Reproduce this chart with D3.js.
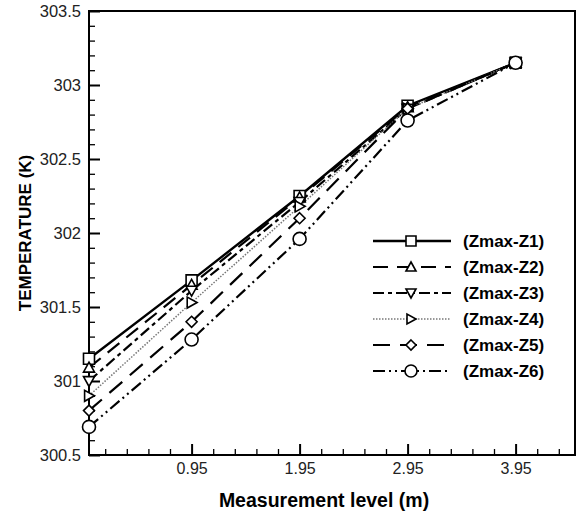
<!DOCTYPE html>
<html>
<head>
<meta charset="utf-8">
<script src="https://cdn.jsdelivr.net/npm/d3@7"></script>
<style>
  body { margin: 0; background: #fff; }
  text { font-family: "Liberation Sans", Arial, sans-serif; }
</style>
</head>
<body>
<svg width="579" height="517"></svg>
<script>
// measurement levels (m)
const levels = [0, 0.95, 1.95, 2.95, 3.95];

// temperature series (K)
const z1 = [301.15, 301.68, 302.25, 302.86, 303.15];
const z2 = [301.09, 301.65, 302.24, 302.85, 303.15];
const z3 = [301.0, 301.61, 302.21, 302.84, 303.15];
const z4 = [300.9, 301.53, 302.18, 302.84, 303.15];
const z5 = [300.8, 301.4, 302.1, 302.84, 303.15];
const z6 = [300.69, 301.28, 301.96, 302.76, 303.15];

const seriesNames = ["(Zmax-Z1)", "(Zmax-Z2)", "(Zmax-Z3)", "(Zmax-Z4)", "(Zmax-Z5)", "(Zmax-Z6)"];
const xTicks = [0.95, 1.95, 2.95, 3.95];
const yTicks = [300.5, 301, 301.5, 302, 302.5, 303, 303.5];

const series = [z1, z2, z3, z4, z5, z6];
const markers = ["square", "triangle", "triangleDown", "triangleRight", "diamond", "circle"];
const dashes = ["none", "15,9", "11,4,4,4", "1.5,1.5", "17,10", "12,4,2,4,2,4"];
const colors = ["#000", "#000", "#000", "#777", "#000", "#000"];
const widths = [2.4, 2.2, 2.2, 1.5, 2.2, 2.2];

const margin = { top: 11, right: 4, bottom: 62, left: 89 };
const width = 579;
const height = 517;

const x = d3.scaleLinear().domain([0, 4.5]).range([margin.left, width - margin.right]);
const y = d3.scaleLinear().domain([300.5, 303.5]).range([height - margin.bottom, margin.top]);

const svg = d3.select("svg");

// ticks, major and minor
const xMinor = d3.range(0.15, 4.5, 0.2).filter(v => !xTicks.some(t => Math.abs(t - v) < 1e-6));
const yMinor = d3.range(300.6, 303.5, 0.1).filter(v => !yTicks.some(t => Math.abs(t - v) < 1e-6));

svg.append("g")
  .attr("transform", `translate(0,${y(300.5)})`)
  .call(d3.axisBottom(x).tickValues(xMinor).tickSize(-6).tickFormat(""))
  .call(g => g.select(".domain").remove())
  .selectAll("line").attr("stroke-width", 1.3);

svg.append("g")
  .attr("transform", `translate(0,${y(300.5)})`)
  .call(d3.axisBottom(x).tickValues(xTicks).tickSize(-11).tickPadding(8).tickFormat(d3.format(".2f")))
  .call(g => g.select(".domain").remove())
  .call(g => g.selectAll("line").attr("stroke-width", 2))
  .call(g => g.selectAll("text").attr("font-size", 16).attr("fill", "#222"));

svg.append("g")
  .attr("transform", `translate(${x(0)},0)`)
  .call(d3.axisLeft(y).tickValues(yMinor).tickSize(-6).tickFormat(""))
  .call(g => g.select(".domain").remove())
  .selectAll("line").attr("stroke-width", 1.3);

svg.append("g")
  .attr("transform", `translate(${x(0)},0)`)
  .call(d3.axisLeft(y).tickValues(yTicks).tickSize(-11).tickPadding(8).tickFormat(d => d))
  .call(g => g.select(".domain").remove())
  .call(g => g.selectAll("line").attr("stroke-width", 2))
  .call(g => g.selectAll("text").attr("font-size", 16.5).attr("fill", "#222"));

// frame
svg.append("rect")
  .attr("x", x(0)).attr("y", y(303.5))
  .attr("width", x(4.5) - x(0)).attr("height", y(300.5) - y(303.5))
  .attr("fill", "none").attr("stroke", "#000").attr("stroke-width", 2);

// marker shapes
function markerPath(type, s) {
  const h = s / 2;
  if (type === "square") return `M${-h},${-h}H${h}V${h}H${-h}Z`;
  if (type === "triangle") return `M0,${-h}L${h},${h * 0.8}H${-h}Z`;
  if (type === "triangleDown") return `M0,${h}L${h},${-h * 0.8}H${-h}Z`;
  if (type === "triangleRight") return `M${h},0L${-h * 0.8},${h}V${-h}Z`;
  if (type === "diamond") return `M0,${-h}L${h},0L0,${h}L${-h},0Z`;
  return d3.arc()({ innerRadius: 0, outerRadius: h, startAngle: 0, endAngle: 2 * Math.PI });
}

const line = d3.line().x((d, i) => x(levels[i])).y(d => y(d));

series.forEach((s, k) => {
  svg.append("path")
    .datum(s)
    .attr("d", line)
    .attr("fill", "none")
    .attr("stroke", colors[k])
    .attr("stroke-width", widths[k])
    .attr("stroke-dasharray", dashes[k]);
});

series.forEach((s, k) => {
  svg.append("g")
    .selectAll("path")
    .data(s)
    .join("path")
    .attr("transform", (d, i) => `translate(${x(levels[i])},${y(d)})`)
    .attr("d", markerPath(markers[k], markers[k] === "circle" ? 13 : 11))
    .attr("fill", "#fff")
    .attr("stroke", "#000")
    .attr("stroke-width", 1.6);
});

// legend
const legend = svg.append("g").attr("transform", "translate(373,241)");
seriesNames.forEach((name, k) => {
  const row = legend.append("g").attr("transform", `translate(0,${k * 26})`);
  row.append("line")
    .attr("x1", 0).attr("x2", 78)
    .attr("stroke", colors[k])
    .attr("stroke-width", widths[k])
    .attr("stroke-dasharray", dashes[k]);
  row.append("path")
    .attr("transform", "translate(38,0)")
    .attr("d", markerPath(markers[k], markers[k] === "circle" ? 12 : 10))
    .attr("fill", "#fff")
    .attr("stroke", "#000")
    .attr("stroke-width", 1.6);
  row.append("text")
    .attr("x", 90).attr("y", 6)
    .attr("font-size", 17).attr("font-weight", "bold")
    .text(name);
});

// axis titles
svg.append("text")
  .attr("x", 324).attr("y", 507)
  .attr("text-anchor", "middle")
  .attr("font-size", 19.5).attr("font-weight", "bold")
  .text("Measurement level (m)");

svg.append("text")
  .attr("transform", `translate(31,${y(302)}) rotate(-90)`)
  .attr("text-anchor", "middle")
  .attr("font-size", 17).attr("font-weight", "bold")
  .text("TEMPERATURE (K)");
</script>
</body>
</html>
